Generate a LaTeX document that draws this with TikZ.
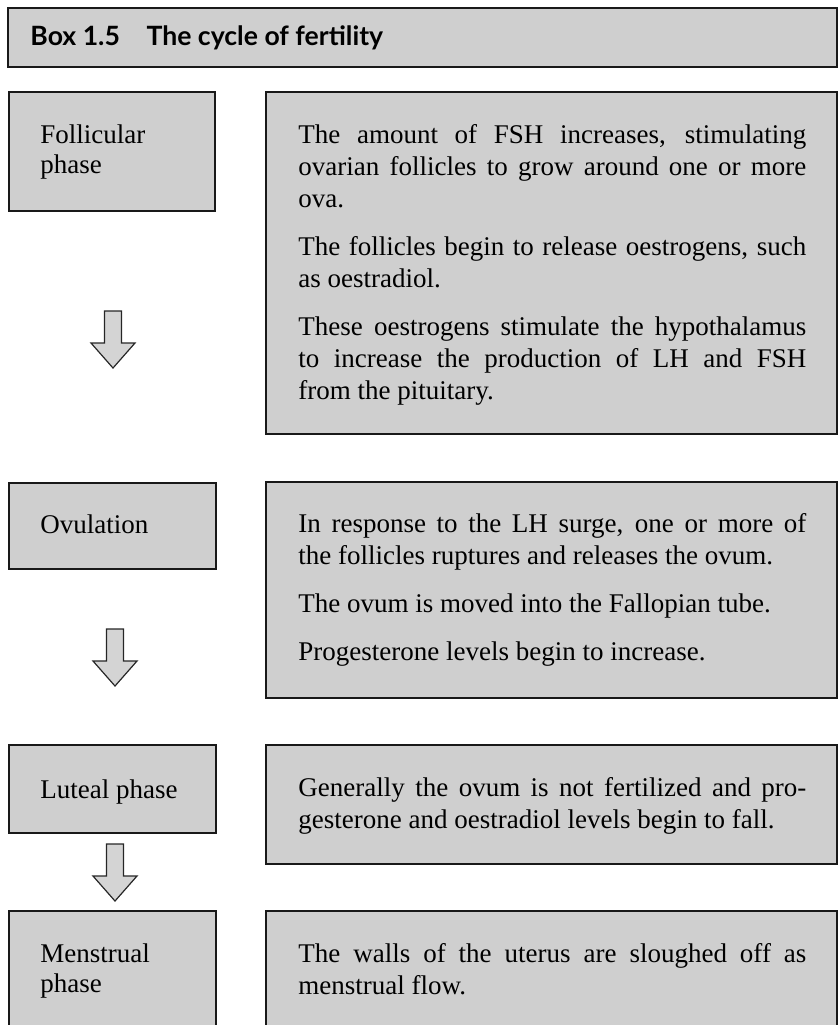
\documentclass[tikz,border=0pt]{standalone}
\usepackage{fontspec}
\setmainfont{Liberation Serif}
\newfontfamily\titlefont{Lato}
\setlength{\parindent}{0pt}
\begin{document}
\begin{tikzpicture}[x=0.5pt,y=-0.5pt]
\tikzset{
  panel/.style={draw=black!90, line width=1.2pt, fill=black!19, anchor=north west, inner sep=0pt},
  body/.style={anchor=north west, inner sep=0pt, text width=254pt, align=justify,
    font=\fontsize{13.5}{16}\selectfont},
  phase/.style={anchor=north west, inner sep=0pt, align=left,
    font=\fontsize{13.5}{15}\selectfont},
  flowarrow/.style={draw=black!85, line width=0.6pt, fill=black!17, line join=miter},
  downarrow/.pic={\draw[flowarrow] (-8.5,0) -- (8.5,0) -- (8.5,32) -- (22,32) -- (0,57) -- (-22,32) -- (-8.5,32) -- cycle;}
}
\useasboundingbox (0,0) rectangle (838,1025);
% title bar
\node[panel, minimum width=414.5pt, minimum height=29.5pt] (title) at (7,7) {};
\node[anchor=base west, inner sep=0pt, font=\titlefont\bfseries\fontsize{13.3}{16}\selectfont] (titletext) at (30,45) {Box 1.5\hspace{1em}The cycle of fertility};
% left boxes
\node[panel, minimum width=103pt, minimum height=59.5pt] (fol) at (8,91) {};
\node[panel, minimum width=103.5pt, minimum height=43pt] (ovu) at (8,482) {};
\node[panel, minimum width=103.5pt, minimum height=44pt] (lut) at (8,744) {};
\node[panel, minimum width=103.5pt, minimum height=70pt] (men) at (8,910) {};
% right boxes
\node[panel, minimum width=285.5pt, minimum height=171pt] (r1) at (265,91) {};
\node[panel, minimum width=285.5pt, minimum height=108pt] (r2) at (265,481) {};
\node[panel, minimum width=285.5pt, minimum height=59.5pt] (r3) at (265,744) {};
\node[panel, minimum width=285.5pt, minimum height=70pt] (r4) at (265,910) {};
% phase labels
\node[phase] (folt) at (40,123) {\rule{0pt}{10pt}Follicular\\[0pt]phase};
\node[phase] (ovut) at (40,513) {\rule{0pt}{10pt}Ovulation};
\node[phase] (lutt) at (40,778) {\rule{0pt}{10pt}Luteal phase};
\node[phase] (ment) at (40,942) {\rule{0pt}{10pt}Menstrual\\[0pt]phase};
% texts
\node[body] (r1t) at (298,123) {\rule{0pt}{10pt}The amount of FSH increases, stimulating\linebreak ovarian follicles to grow around one or more\linebreak ova.\par\vspace{8pt}
The follicles begin to release oestrogens, such\linebreak as oestradiol.\par\vspace{8pt}
These oestrogens stimulate the hypothalamus\linebreak to increase the production of LH and FSH\linebreak from the pituitary.};
\node[body] (r2t) at (298,512) {\rule{0pt}{10pt}In response to the LH surge, one or more of\linebreak the follicles ruptures and releases the ovum.\par\vspace{8pt}
The ovum is moved into the Fallopian tube.\par\vspace{8pt}
Progesterone levels begin to increase.};
\node[body] (r3t) at (298,776) {\rule{0pt}{10pt}Generally the ovum is not fertilized and pro-\linebreak gesterone and oestradiol levels begin to fall.};
\node[body] (r4t) at (298,942) {\rule{0pt}{10pt}The walls of the uterus are sloughed off as\linebreak menstrual flow.};
% arrows
\pic at (113,311) {downarrow};
\pic at (115,629) {downarrow};
\pic at (115,844) {downarrow};
\end{tikzpicture}
\end{document}
